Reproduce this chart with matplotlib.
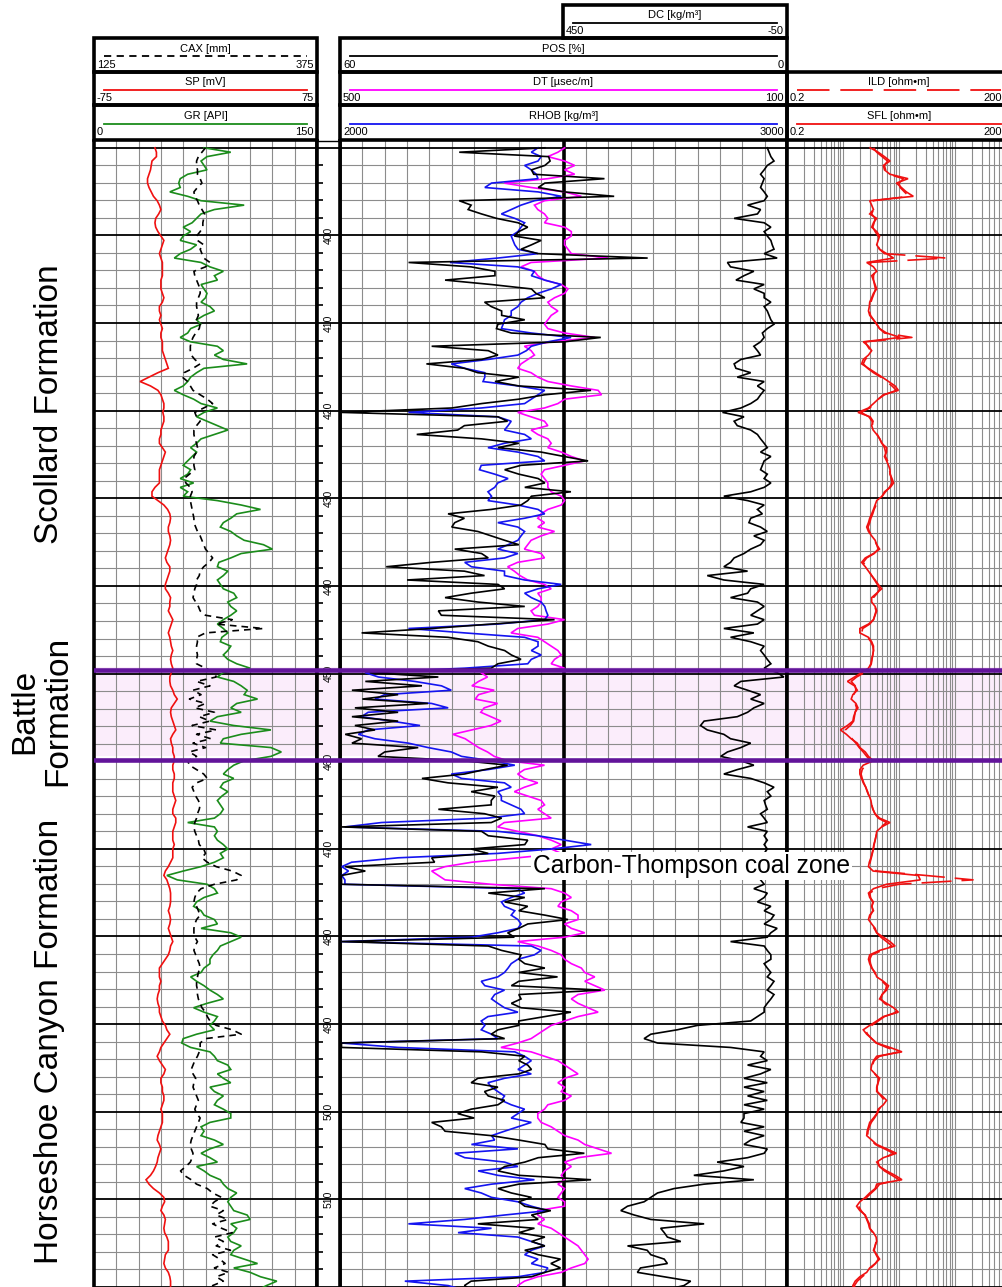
import numpy as np
import matplotlib
matplotlib.use("Agg")
import matplotlib.pyplot as plt
from matplotlib.patches import Rectangle
from matplotlib.transforms import blended_transform_factory as blend
from matplotlib.ticker import NullLocator

plt.rcParams['font.family'] = ['Liberation Sans', 'DejaVu Sans']

# ---------------- data (sampled every 0.5 m from 390 m) ----------------
DEPTH_START = 390.0
DEPTH_STEP = 0.5

GR = [  # API
    74, 92, 76, 72, 74, 76, 63, 58, 57, 58, 51, 63, 72, 101, 81, 72, 69, 66, 60, 65,
    60, 58, 69, 65, 58, 54, 72, 78, 87, 81, 83, 72, 74, 76, 75, 72, 78, 81, 74, 69,
    72, 65, 63, 58, 65, 83, 87, 81, 87, 103, 74, 69, 65, 63, 60, 54, 60, 67, 72, 83,
    74, 69, 76, 83, 90, 81, 72, 69, 65, 69, 66, 63, 60, 65, 63, 58, 67, 58, 63, 60,
    83, 99, 112, 96, 92, 87, 85, 92, 96, 101, 114, 120, 99, 92, 84, 83, 90, 87, 83, 85,
    87, 94, 96, 90, 92, 96, 92, 87, 83, 87, 90, 86, 85, 92, 90, 87, 90, 96, 105, 87,
    83, 94, 99, 103, 101, 110, 96, 92, 99, 83, 78, 94, 119, 99, 87, 85, 119, 126, 119, 101,
    94, 90, 87, 94, 87, 85, 90, 86, 83, 85, 87, 85, 81, 63, 81, 83, 81, 83, 87, 90,
    85, 87, 81, 72, 60, 49, 56, 76, 81, 83, 74, 69, 67, 72, 74, 81, 83, 72, 92, 99,
    92, 85, 83, 80, 78, 78, 74, 72, 65, 69, 74, 78, 83, 87, 76, 67, 74, 83, 81, 78,
    81, 69, 60, 59, 65, 78, 81, 83, 90, 92, 83, 87, 92, 78, 81, 87, 83, 81, 87, 92,
    92, 78, 72, 74, 72, 81, 87, 78, 72, 78, 83, 69, 74, 78, 85, 87, 90, 96, 92, 90,
    92, 94, 103, 105, 92, 96, 94, 90, 92, 99, 94, 92, 101, 110, 94, 105, 112, 123, 116, 110,
]
SP = [  # mV
    -34, -33, -33, -36, -36.5, -37, -38, -39, -39, -38, -36.5, -35, -32.5, -31, -30, -31.5, -33.5, -34, -33.5, -32,
    -30, -28, -29, -30, -31, -30, -29, -29, -29, -29, -30, -30, -30, -29, -28, -29, -31, -31, -30, -31,
    -30, -29, -30, -30, -29, -29, -29, -28, -27, -26, -25, -32, -38, -44, -37, -32, -30, -29, -28, -28,
    -28.7, -28, -28, -29, -30, -30, -31, -31, -29, -27, -28, -29, -30, -31, -31, -31, -31, -34, -36, -36,
    -32, -28, -25.5, -24, -23.5, -24, -25, -25, -24, -23.5, -24, -25, -26, -27, -26, -24, -24, -25, -26, -27,
    -27, -25, -23.5, -24, -24, -25, -23.5, -22, -23, -24, -25, -24, -23.5, -23, -22, -23, -23.5, -23, -22, -23,
    -24, -24, -23.5, -22, -21, -19, -21, -23, -23.5, -23, -22, -21, -20, -22, -23.5, -23, -22, -22, -21, -21,
    -22, -22, -21, -21, -22, -22, -22, -21, -20, -21, -22, -22, -20, -20, -21, -22, -22, -22, -21, -22,
    -22, -22, -23.5, -25, -27, -28, -26, -25, -24, -23.5, -23.5, -23.5, -24, -25, -24, -23.5, -24, -25, -24, -23,
    -22, -23.5, -24, -25, -27, -29, -31, -31, -31, -30, -31, -31, -32, -32.5, -32, -31, -31, -30, -29, -27,
    -26, -24, -26, -28, -30, -31, -32.5, -31, -29, -27, -28, -30, -30, -29, -29, -28, -28, -29, -30, -29,
    -29, -29, -30, -31, -32, -32.5, -31, -30, -31, -32, -32.5, -33.6, -35, -37, -40, -38, -35, -31, -28, -27.5,
    -29, -30, -28, -27, -27.5, -28, -27.5, -26, -25, -25, -25, -27, -27.5, -28, -27, -25, -24, -23.5, -23.5, -23.5,
]
CAX = [  # mm
    250, 246, 242, 240, 240, 241, 241, 244, 246, 241, 237, 238, 241, 243, 246, 249, 248, 247, 247, 244,
    240, 241, 248, 244, 246, 248, 255, 250, 237, 238, 240, 242, 244, 244, 242, 240, 240, 241, 242, 240,
    244, 243, 239, 236, 234, 233, 233, 234, 238, 244, 236, 226, 224, 230, 233, 236, 244, 252, 258, 248,
    238, 240, 244, 240, 237, 237, 238, 240, 241, 240, 237, 237, 237, 238, 232, 226, 228, 233, 235, 233,
    233, 234, 235, 236, 237, 237, 239, 241, 244, 246, 248, 250, 254, 258, 254, 248, 244, 243, 240, 240,
    238, 237, 236, 239, 242, 244, 250, 280, 262, 315, 250, 240, 241, 240, 240, 241, 240, 240, 250, 260,
    262, 240, 255, 236, 245, 232, 250, 238, 260, 243, 255, 235, 262, 240, 256, 236, 250, 232, 240, 230,
    232, 240, 248, 252, 240, 235, 237, 239, 242, 244, 243, 241, 240, 238, 237, 238, 240, 242, 243, 248,
    250, 246, 252, 262, 280, 290, 285, 260, 245, 240, 238, 237, 240, 242, 244, 240, 238, 237, 237, 238,
    241, 238, 237, 239, 241, 243, 244, 242, 241, 240, 240, 241, 241, 242, 244, 246, 250, 252, 255, 262,
    280, 290, 250, 244, 244, 243, 241, 238, 236, 234, 236, 239, 237, 236, 238, 240, 242, 240, 238, 240,
    244, 242, 240, 238, 236, 234, 233, 234, 236, 235, 233, 228, 222, 226, 234, 240, 252, 258, 268, 260,
    255, 270, 262, 275, 258, 268, 280, 260, 270, 262, 278, 258, 266, 272, 260, 276, 262, 270, 258, 266,
]
RHOB = [  # kg/m3
    2443, 2428, 2450, 2443, 2413, 2428, 2439, 2443, 2339, 2324, 2443, 2495, 2435, 2405, 2383, 2361, 2391, 2413, 2405, 2398,
    2383, 2387, 2391, 2398, 2443, 2353, 2246, 2398, 2435, 2428, 2458, 2495, 2473, 2443, 2420, 2405, 2398, 2383, 2383, 2368,
    2365, 2361, 2428, 2517, 2465, 2428, 2417, 2398, 2331, 2249, 2279, 2324, 2324, 2320, 2398, 2458, 2443, 2428, 2413, 2316,
    2153, 2353, 2383, 2376, 2368, 2413, 2428, 2368, 2331, 2398, 2443, 2458, 2316, 2312, 2346, 2376, 2353, 2346, 2331, 2339,
    2331, 2398, 2443, 2458, 2413, 2353, 2398, 2413, 2405, 2398, 2376, 2353, 2398, 2368, 2279, 2294, 2368, 2368, 2413, 2495,
    2443, 2413, 2428, 2450, 2458, 2461, 2465, 2458, 2353, 2153, 2279, 2413, 2443, 2443, 2428, 2450, 2428, 2420, 2279, 2056,
    2086, 2167, 2227, 2249, 2100, 2078, 2205, 2242, 2063, 2048, 2115, 2179, 2063, 2041, 2078, 2153, 2197, 2249, 2272, 2339,
    2391, 2331, 2249, 2272, 2368, 2383, 2353, 2361, 2361, 2383, 2405, 2413, 2331, 2093, 2011, 2353, 2443, 2502, 2562, 2473,
    2353, 2130, 2026, 2004, 2019, 2004, 2011, 2011, 2398, 2413, 2383, 2361, 2368, 2391, 2383, 2398, 2405, 2398, 2353, 2294,
    2004, 2428, 2450, 2435, 2398, 2383, 2376, 2368, 2353, 2316, 2324, 2368, 2346, 2339, 2353, 2368, 2398, 2331, 2316, 2324,
    2316, 2339, 2353, 2004, 2130, 2391, 2413, 2428, 2413, 2398, 2428, 2368, 2331, 2339, 2353, 2368, 2361, 2383, 2413, 2398,
    2383, 2428, 2398, 2368, 2339, 2346, 2294, 2398, 2257, 2279, 2368, 2398, 2309, 2353, 2435, 2339, 2279, 2316, 2339, 2398,
    2428, 2465, 2368, 2279, 2153, 2339, 2264, 2398, 2428, 2458, 2428, 2413, 2443, 2428, 2465, 2458, 2398, 2145, 2242, 2279,
]
DT = [  # usec/m
    299, 305, 314, 299, 290, 299, 290, 314, 353, 329, 299, 284, 317, 326, 323, 317, 314, 317, 299, 293,
    293, 299, 299, 296, 293, 260, 329, 338, 326, 323, 317, 302, 296, 299, 308, 314, 311, 305, 311, 314,
    317, 314, 299, 272, 311, 335, 329, 326, 332, 338, 341, 329, 323, 314, 293, 269, 266, 299, 305, 317,
    341, 329, 317, 314, 329, 323, 314, 311, 314, 302, 293, 281, 299, 317, 320, 317, 314, 314, 311, 302,
    299, 302, 314, 320, 323, 317, 323, 308, 320, 329, 332, 335, 320, 317, 341, 350, 344, 339, 332, 317,
    311, 323, 320, 320, 323, 329, 326, 299, 314, 341, 347, 323, 317, 311, 305, 302, 308, 311, 299, 374,
    368, 376, 382, 362, 376, 379, 359, 371, 374, 365, 356, 365, 382, 399, 388, 382, 376, 368, 362, 350,
    317, 335, 341, 335, 323, 335, 344, 332, 320, 317, 323, 317, 311, 353, 359, 341, 323, 311, 302, 311,
    302, 341, 382, 406, 418, 412, 406, 365, 311, 299, 293, 302, 305, 293, 287, 287, 299, 293, 281, 299,
    341, 323, 311, 302, 299, 293, 284, 281, 272, 281, 272, 263, 287, 293, 287, 278, 269, 287, 299, 311,
    317, 323, 329, 341, 356, 329, 317, 305, 299, 293, 287, 299, 305, 299, 302, 293, 299, 314, 317, 323,
    323, 320, 311, 305, 299, 287, 281, 269, 257, 287, 299, 293, 299, 302, 299, 305, 299, 302, 305, 299,
    299, 323, 323, 317, 323, 311, 305, 299, 293, 287, 284, 281, 278, 281, 293, 302, 323, 335, 341, 341,
]
POS = [  # %
    32.5, 44, 32, 31.8, 32.5, 34.3, 34, 24.5, 32.5, 33.4, 29.9, 23.2, 44, 42.4, 42.8, 41, 39, 36.1, 34.8, 36,
    36.6, 33, 34.3, 35.7, 33.4, 18.7, 50.8, 42.4, 39.2, 39.2, 45.9, 39.7, 34.3, 33.7, 32.5, 40.6, 39.7, 38.3, 38.3, 35.2,
    38.8, 39, 37, 25, 29.9, 47.7, 40.1, 38.8, 41, 48.4, 43.3, 41.5, 36, 39.2, 36, 26.3, 32.5, 36, 41, 45,
    59.8, 38.8, 37.5, 43.3, 44.2, 49.7, 41, 36, 38.8, 33, 29.9, 26.7, 35.7, 37.9, 36, 33.4, 32.5, 35.2, 29, 34.3,
    34.8, 35.7, 39.7, 45.5, 43.3, 44.6, 45, 41.5, 39.7, 37.9, 36, 44.6, 41, 40.1, 47.7, 53.8, 43.3, 40.6, 51, 38.8,
    37.9, 42.4, 45.9, 41.5, 35.2, 46.8, 46.4, 31.2, 39.7, 47.7, 57.1, 45.5, 41.5, 40.1, 37.9, 37, 35.7, 38.8, 39.7, 56,
    46.8, 56.6, 49, 58.4, 52.2, 57, 48.2, 58, 52.2, 58.4, 52.2, 58, 55.3, 59.3, 57.1, 58.4, 49.5, 54, 54.9, 43.3,
    37.5, 40.6, 43.3, 49, 45.5, 38.8, 42.4, 39.2, 39.7, 39.7, 46.8, 40.6, 38.3, 39.7, 59.8, 41, 40.1, 34.8, 35.2, 42.4,
    40.1, 47.7, 47.3, 59.3, 56.6, 59.8, 59.8, 59.8, 32.5, 40.1, 35.2, 37.9, 34.8, 36, 32.5, 29.4, 34.8, 36, 37.5, 36.6,
    59.8, 40.1, 38.3, 35.7, 36, 35.2, 32.5, 36, 30.8, 36, 37, 25, 36, 35.7, 37, 35.7, 29, 32.5, 36, 36,
    38.8, 39.7, 37.9, 59.8, 59.8, 41, 35.2, 36, 34.8, 34.3, 36, 41.5, 42.4, 38.8, 40.6, 40.1, 37.9, 38.8, 42.4, 44.2,
    42, 47.7, 46.4, 45.9, 39.7, 36, 32.5, 32.1, 27.2, 33.4, 35.2, 37.9, 38.8, 36, 26.3, 36, 38.8, 37, 34.3, 36,
    35.2, 31.7, 34.3, 33.4, 41.5, 33.9, 36, 32.5, 34.3, 32.5, 35.2, 33.4, 30.4, 31.7, 30.4, 32.5, 34.3, 42.4, 43.3, 42.4,
]
DC = [  # kg/m3
    -6, -10, -14, -21, -6, 1, 9, 1, 5, 9, 1, -6, 1, 38, 9, 16, 68, 1, -14, 1,
    -6, -14, -17, -21, 1, -28, 83, 76, 24, 46, 64, 1, 24, 1, 1, -14, 1, -6, -10, -14,
    -21, -6, 5, 1, 9, 24, 16, 9, 53, 68, 64, 31, 61, 1, 16, 1, 9, 16, 31, 53,
    94, 46, 68, 61, 31, 16, 9, 1, -6, 9, -14, 1, 5, 9, -6, 1, -14, 1, 31, 91,
    38, 1, 16, 5, 31, 35, 9, -6, 24, 1, 9, 31, 46, 68, 76, 91, 38, 128, 91, 1,
    31, 38, 76, 16, 1, 16, 31, 1, 16, 91, 24, 76, 31, 1, 9, 1, -6, -14, 1, -28,
    -43, 53, 68, 38, 9, 31, 1, 24, 38, 61, 135, 143, 128, 91, 76, 31, 53, 83, 98, 53,
    24, 61, 91, 31, 1, -21, -6, -14, 1, -2, -6, 9, 1, -6, 38, -6, 1, -6, 1, -6,
    1, -6, 1, 1, 1, 1, 9, 1, 24, -6, 1, 16, -14, 1, -21, -14, 1, -28, -14, -6,
    76, 1, -6, -14, -14, 1, -6, -14, -6, -21, -14, -6, -21, -14, -6, 1, 1, 16, 31, 150,
    195, 254, 269, 239, 76, 1, 9, -6, 38, -14, 9, 46, -6, 46, 1, 38, -6, 46, 1, 46,
    46, 53, 1, 46, 1, 31, 46, -6, 1, 38, 106, 46, 91, 158, 24, 135, 202, 239, 254, 269,
    306, 321, 291, 254, 135, 232, 224, 217, 187, 306, 262, 254, 224, 217, 277, 284, 224, 165, 180, 224,
]
SFL = [  # ohm.m
    6.1, 8.5, 11, 13.8, 10.5, 11, 13.8, 29, 18, 22, 27, 36, 6, 6.5, 7, 6, 8, 7, 6.5, 8,
    9, 8.5, 8, 9, 12, 16, 5.3, 7, 8, 6.5, 7, 7.5, 8, 7, 6.5, 6, 5.9, 5.7, 6, 7,
    8, 9, 12, 21, 4.6, 5.7, 6.5, 5.7, 4.6, 4.3, 5.7, 7.5, 10, 13, 17, 19.5, 10.5, 8.5, 7, 5.7,
    3.7, 6.1, 6.9, 6.5, 6.9, 8, 9.1, 9.8, 12, 12, 11, 12, 13, 13.8, 13.8, 15, 16, 14, 11, 10,
    8, 7.5, 7, 6.5, 6, 5.7, 5.3, 5.7, 6.5, 7.5, 8, 9, 7, 5, 4.3, 5, 5.7, 6.5, 7.5, 8.5,
    9.8, 8, 6.5, 6.5, 7.5, 8, 7.5, 7, 5.7, 4, 4, 5.7, 6.5, 7, 7, 6.8, 6.5, 6.3, 5.7, 4.3,
    3.2, 2.4, 3.2, 3.6, 3, 2.8, 3.4, 3.7, 3.3, 3.1, 3, 2.4, 1.8, 2.3, 2.8, 3.6, 4, 5, 5.7, 6.9,
    4.6, 4, 4, 4.3, 4.6, 5.1, 5.4, 5.9, 6.3, 6.5, 6.8, 7.5, 9, 13.8, 9.8, 8, 7.8, 7.5, 7.1, 6.9,
    6.6, 6.3, 5.9, 5.7, 6.9, 44, 48, 12, 7, 5.7, 6, 7, 6.5, 7, 6, 5.7, 6.5, 7.5, 8, 10.5,
    13.8, 17, 9, 6, 5.7, 6, 6.5, 7.5, 8, 10.5, 13, 12, 10, 9, 12, 16, 19.5, 10.5, 8, 6,
    4.6, 5.3, 6.5, 8, 13.8, 22.6, 8, 7, 6.5, 6.3, 7.5, 9, 8.5, 8, 8, 10, 12, 10.5, 8.5, 8,
    7, 6, 5.7, 5.4, 5.3, 6.5, 8, 12, 18, 10.5, 8, 9, 12, 17, 22.6, 8, 7.5, 6, 5, 4,
    3.5, 4, 5, 5.4, 5.9, 6, 7, 7.8, 8, 7.5, 7, 8, 9, 7.5, 6, 5.3, 4, 3.3, 3, 3.2,
]
ILD = [  # ohm.m
    7, 8, 10, 12.5, 11, 11.5, 13, 24, 20, 21, 25, 30, 7, 6.5, 7, 6.5, 7.5, 7.2, 6.8, 7.5,
    8.5, 8.5, 8.2, 9, 11, 140, 6, 6.8, 7.5, 7, 7, 7.3, 7.6, 7.2, 6.7, 6.3, 6, 5.9, 6.2, 7,
    8, 9, 11, 34, 5, 5.5, 6.2, 6, 5, 4.6, 5.5, 7, 9.5, 12, 15, 18, 11, 8.5, 7.2, 6,
    4.2, 5.8, 6.6, 6.8, 7.2, 8.2, 9, 10, 11, 11.5, 11.5, 12.5, 13, 13.5, 14, 14.5, 15, 13.5, 11.5, 10,
    8.5, 7.8, 7.2, 6.8, 6.3, 6, 5.6, 5.9, 6.6, 7.3, 8, 8.5, 7.2, 5.3, 4.6, 5.2, 5.8, 6.5, 7.3, 8.2,
    9, 8.2, 7, 6.8, 7.4, 7.8, 7.4, 7, 6, 4.5, 4.3, 5.5, 6.3, 6.8, 7, 6.8, 6.6, 6.4, 5.9, 4.8,
    3.5, 2.8, 3.3, 3.4, 3.1, 3, 3.3, 3.5, 3.3, 3.2, 3.1, 2.7, 2.2, 2.5, 2.9, 3.4, 3.9, 4.6, 5.3, 6.3,
    5, 4.4, 4.2, 4.4, 4.7, 5.1, 5.5, 5.8, 6.2, 6.5, 6.9, 7.4, 8.5, 12, 9.5, 8.2, 7.8, 7.5, 7.2, 7,
    6.7, 6.4, 6.1, 5.9, 8, 60, 420, 20, 8, 6, 6.2, 6.8, 6.6, 6.8, 6.2, 6, 6.4, 7.2, 8, 9.5,
    12, 15, 10, 6.5, 6, 6.2, 6.6, 7.3, 8, 10, 12, 11.5, 10, 9.5, 11, 15, 18, 11, 8.5, 6.5,
    5, 5.5, 6.5, 7.8, 12, 20, 9, 7.2, 6.7, 6.5, 7.4, 8.6, 8.4, 8.1, 8.2, 9.5, 11, 10.3, 8.8, 8.2,
    7.3, 6.4, 5.9, 5.6, 5.5, 6.3, 7.6, 11, 16, 11, 8.4, 9, 11, 15, 20, 9, 7.8, 6.4, 5.3, 4.4,
    3.8, 4.2, 4.9, 5.3, 5.7, 6, 6.8, 7.5, 7.8, 7.5, 7.2, 7.8, 8.6, 7.6, 6.3, 5.5, 4.4, 3.6, 3.2, 3.3,
]

BATTLE_TOP, BATTLE_BASE = 449.2, 459.4
FORMATIONS = ["Scollard Formation", "Battle\nFormation", "Horseshoe Canyon Formation"]
FORMATION_MID_DEPTHS = [419.3, 454.3, 492.0]
COAL_ZONE = "Carbon-Thompson coal zone"
COAL_ZONE_DEPTH = 472.8
DEPTH_LABELS = [400, 410, 420, 430, 440, 450, 460, 470, 480, 490, 500, 510]


def depth_of(values):
    return DEPTH_START + DEPTH_STEP * np.arange(len(values))


# ---------------- layout (pixels) ----------------
W, H = 1002, 1287
fig = plt.figure(figsize=(W / 100, H / 100), dpi=100)

PX_PER_M = 8.82
Y_AT_400 = 236.0
DATA_TOP = 141.0
D_TOP = 400 - (Y_AT_400 - DATA_TOP) / PX_PER_M
D_BOT = 400 + (H - Y_AT_400) / PX_PER_M

T1 = (94, 317)
TD = (317, 340)
T2 = (340, 787)
T2_MID = 563
T3 = (787, 1011)

GRID_GREY = '#8c8c8c'
PURPLE = '#62149a'
PINK = '#fbedfb'
BORDER_LW = 2.6
CURVE_LW = 1.2

C_GREEN = '#1b8c1b'
C_RED = '#f01010'
C_MAG = '#ff00ff'
C_BLUE = '#1414f0'


def add_ax(x0, x1, y0=DATA_TOP, y1=H):
    return fig.add_axes([x0 / W, 1 - y1 / H, (x1 - x0) / W, (y1 - y0) / H])


MAJOR_D = np.arange(390, 521, 10)
MINOR_D = [d for d in range(390, 521, 2) if d % 10 != 0]


def set_depth_axis(ax):
    ax.set_ylim(D_BOT, D_TOP)
    ax.set_yticks(MAJOR_D)
    ax.set_yticks(MINOR_D, minor=True)


def base_track(x0, x1, xlim, xgrid, log=False):
    ax = add_ax(x0, x1)
    if log:
        ax.set_xscale('log')
    ax.set_xlim(*xlim)
    set_depth_axis(ax)
    ax.set_xticks(xgrid)
    ax.xaxis.set_minor_locator(NullLocator())
    ax.set_axisbelow(True)
    ax.xaxis.grid(True, which='major', color=GRID_GREY, lw=0.8)
    ax.yaxis.grid(True, which='minor', color=GRID_GREY, lw=0.8)
    ax.yaxis.grid(True, which='major', color='black', lw=1.3)
    ax.tick_params(which='both', length=0, labelleft=False, labelbottom=False)
    for s in ('top', 'bottom'):
        ax.spines[s].set_visible(False)
    for s in ('left', 'right'):
        ax.spines[s].set_linewidth(BORDER_LW)
    ax.axhspan(BATTLE_TOP, BATTLE_BASE, color=PINK, zorder=0.1, lw=0)
    return ax


def overlay(x0, x1, xlim=(0, 1), log=False):
    ax = add_ax(x0, x1)
    if log:
        ax.set_xscale('log')
    ax.set_xlim(*xlim)
    ax.set_ylim(D_BOT, D_TOP)
    ax.axis('off')
    return ax


def purple_lines(ax):
    for d in (BATTLE_TOP, BATTLE_BASE):
        ax.axhline(d, color=PURPLE, lw=3.3, zorder=6)


# track bases
ax1 = base_track(*T1, (0, 10), np.arange(1, 10))
ax2 = base_track(*T2, (0, 20), [k for k in range(1, 20) if k != 10])
ax2.axvline(10, color='black', lw=BORDER_LW, zorder=3)
log_grid = sorted(set(round(0.2 * k * 10 ** n, 6) for n in range(4) for k in range(1, 11)))
ax3 = base_track(*T3, (0.2, 2000), log_grid, log=True)

# depth track
axd = add_ax(*TD)
axd.set_xlim(0, 1)
set_depth_axis(axd)
axd.yaxis.grid(True, which='major', color='black', lw=1.3)
axd.tick_params(axis='y', which='minor', direction='in', length=4, width=1.2,
                left=True, right=False, labelleft=False)
axd.tick_params(axis='y', which='major', length=0, labelleft=False)
axd.tick_params(axis='x', length=0, labelbottom=False)
axd.spines['bottom'].set_visible(False)
axd.spines['top'].set_linewidth(1.0)
for s in ('left', 'right'):
    axd.spines[s].set_linewidth(BORDER_LW)
axd.axhspan(BATTLE_TOP, BATTLE_BASE, color=PINK, zorder=0.1, lw=0)
tr_d = blend(axd.transAxes, axd.transData)
for d in DEPTH_LABELS:
    axd.text(0.5, d, str(d), rotation=90, ha='center', va='center', fontsize=7.5,
             transform=tr_d, zorder=1)

# curves: (name, unit, values, pixel span, xlim, color, linestyle, log)
DASH_CAX = (0, (4, 3))
DASH_ILD = (0, (18, 6))
CURVES = [
    ('SP', 'mV', SP, T1, (-75, 75), C_RED, '-', False),
    ('GR', 'API', GR, T1, (0, 150), C_GREEN, '-', False),
    ('CAX', 'mm', CAX, T1, (125, 375), 'black', DASH_CAX, False),
    ('DT', 'µsec/m', DT, T2, (500, 100), C_MAG, '-', False),
    ('RHOB', 'kg/m³', RHOB, T2, (2000, 3000), C_BLUE, '-', False),
    ('POS', '%', POS, T2, (60, 0), 'black', '-', False),
    ('DC', 'kg/m³', DC, (T2_MID, T2[1]), (450, -50), 'black', '-', False),
    ('ILD', 'ohm•m', ILD, T3, (0.2, 2000), C_RED, DASH_ILD, True),
    ('SFL', 'ohm•m', SFL, T3, (0.2, 2000), C_RED, '-', True),
]
for name, unit, vals, span, xlim, color, ls, log in CURVES:
    ax = overlay(span[0], span[1], xlim, log=log)
    ax.plot(vals, depth_of(vals), color=color, lw=CURVE_LW, ls=ls,
            solid_joinstyle='miter')

# Battle Formation boundaries across all tracks (on top of the curves)
for span in (T1, TD, T2, T3):
    purple_lines(overlay(*span))

# formation names
tr_f = blend(fig.transFigure, ax1.transData)
for name, d in zip(FORMATIONS, FORMATION_MID_DEPTHS):
    xpx = 41 if '\n' in name else 50
    fig.text(xpx / W, d, name, transform=tr_f, rotation=90, ha='center', va='center',
             fontsize=24, linespacing=1.1)

# coal zone label
tr_c = blend(ax2.transAxes, ax2.transData)
fig.text((533 - T2[0]) / (T2[1] - T2[0]), COAL_ZONE_DEPTH, COAL_ZONE, transform=tr_c,
         ha='left', va='baseline', fontsize=17.7, zorder=10,
         bbox=dict(boxstyle='square,pad=0.08', fc='white', ec='none'))

# ---------------- headers ----------------
hax = fig.add_axes([0, 0, 1, 1])
hax.set_xlim(0, W)
hax.set_ylim(H, 0)
hax.axis('off')

HEADER_BOX = {
    'CAX': (T1, 38, 72), 'SP': (T1, 72, 105), 'GR': (T1, 105, 140),
    'POS': (T2, 38, 72), 'DT': (T2, 72, 105), 'RHOB': (T2, 105, 140),
    'DC': ((T2_MID, T2[1]), 5, 38),
    'ILD': (T3, 72, 105), 'SFL': (T3, 105, 140),
}
for name, unit, vals, span, xlim, color, ls, log in CURVES:
    (x0, x1), y0, y1 = HEADER_BOX[name]
    h = y1 - y0
    hax.add_patch(Rectangle((x0, y0), x1 - x0, h, fill=False, lw=BORDER_LW,
                            ec='black', joinstyle='miter', zorder=5))
    hax.text((x0 + x1) / 2, y0 + 0.31 * h, f'{name} [{unit}]', ha='center', va='center',
             fontsize=8)
    hax.plot([x0 + 10, x1 - 10], [y0 + 0.54 * h] * 2, color=color, lw=1.3, ls=ls)
    hax.text(x0 + 3, y0 + 0.78 * h, f'{xlim[0]:g}', ha='left', va='center', fontsize=8)
    hax.text(x1 - 3, y0 + 0.78 * h, f'{xlim[1]:g}', ha='right', va='center', fontsize=8)

fig.savefig('out.png', dpi=100)
